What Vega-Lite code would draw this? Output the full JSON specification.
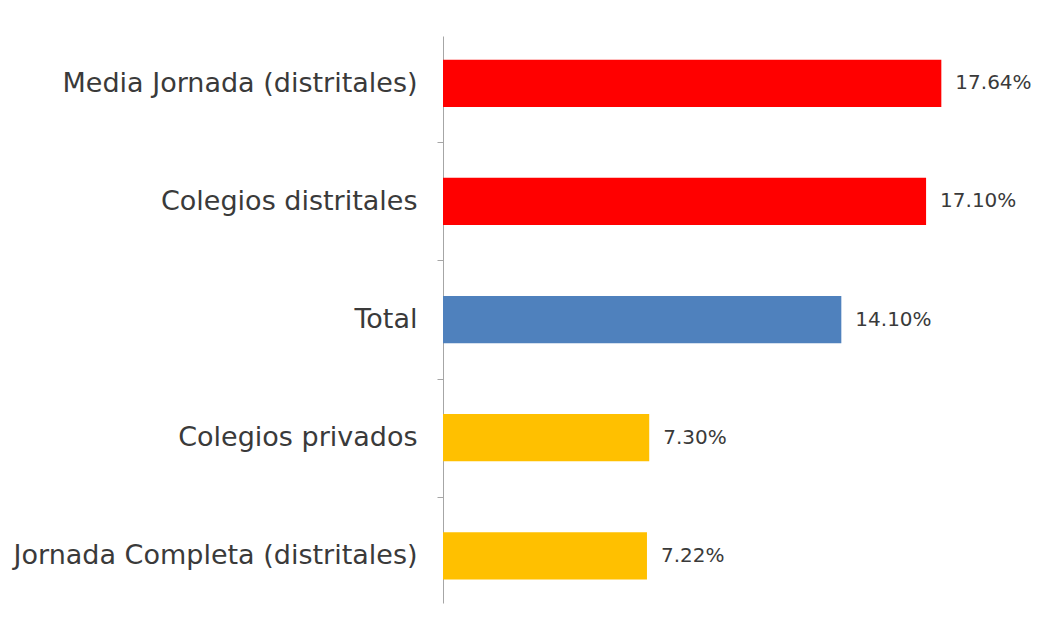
{
  "$schema": "https://vega.github.io/schema/vega-lite/v6.json",
  "autosize": {"type": "none"},
  "padding": {"left": 443, "top": 36, "right": 54, "bottom": 24},
  "width": 565,
  "height": 567,
  "background": "white",
  "data": {
    "values": [
      {"categoria": "Media Jornada (distritales)", "valor": 17.64, "grupo": "distritales"},
      {"categoria": "Colegios distritales", "valor": 17.10, "grupo": "distritales"},
      {"categoria": "Total", "valor": 14.10, "grupo": "total"},
      {"categoria": "Colegios privados", "valor": 7.30, "grupo": "privados"},
      {"categoria": "Jornada Completa (distritales)", "valor": 7.22, "grupo": "completa"}
    ]
  },
  "transform": [
    {"calculate": "format(datum.valor, '.2f') + '%'", "as": "etiqueta"}
  ],
  "encoding": {
    "y": {
      "field": "categoria",
      "type": "nominal",
      "sort": null,
      "scale": {"paddingInner": 0.6, "paddingOuter": 0.2},
      "axis": {
        "title": null,
        "domainColor": "#a6a6a6",
        "tickColor": "#a6a6a6",
        "tickOffset": 59,
        "labelOffset": -59,
        "tickOpacity": {"condition": {"test": "datum.value === 'Jornada Completa (distritales)'", "value": 0}, "value": 1},
        "tickSize": 6,
        "labelFont": "DejaVu Sans",
        "labelFontSize": 27,
        "labelColor": "#3a3a3a",
        "labelPadding": 20,
        "labelLimit": 600
      }
    },
    "x": {
      "field": "valor",
      "type": "quantitative",
      "scale": {"domain": [0, 20]},
      "axis": null
    }
  },
  "layer": [
    {
      "mark": {"type": "bar"},
      "encoding": {
        "color": {
          "field": "grupo",
          "type": "nominal",
          "scale": {
            "domain": ["distritales", "total", "privados", "completa"],
            "range": ["#ff0000", "#4f81bd", "#ffc000", "#ffc000"]
          },
          "legend": null
        }
      }
    },
    {
      "mark": {"type": "text", "align": "left", "dx": 14, "font": "DejaVu Sans", "fontSize": 20, "color": "#3a3a3a"},
      "encoding": {
        "text": {"field": "etiqueta", "type": "nominal"}
      }
    }
  ],
  "config": {"view": {"stroke": null}}
}
